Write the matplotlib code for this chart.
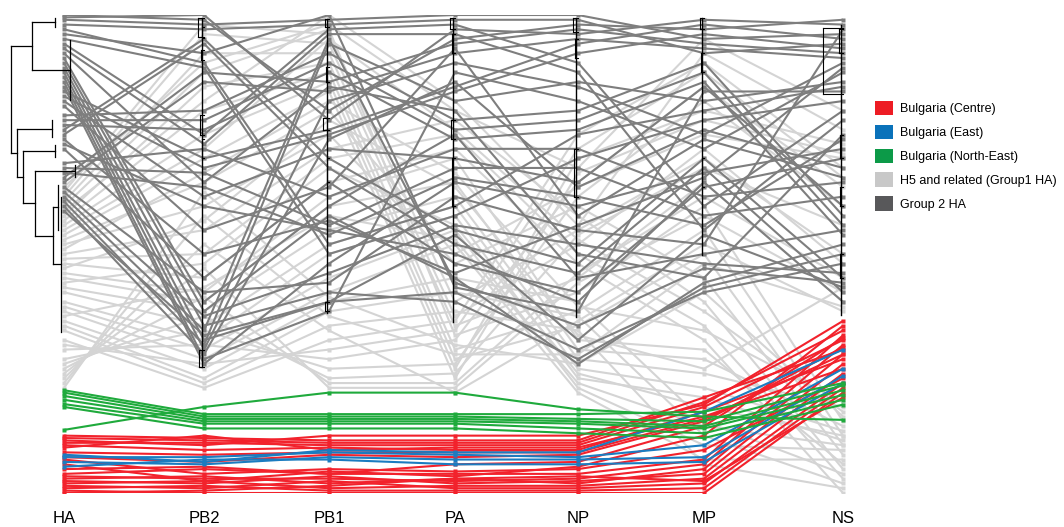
import matplotlib.pyplot as plt
from matplotlib.patches import Patch

plt.rcParams['font.family'] = ['Liberation Sans', 'DejaVu Sans']

# ------------------------------------------------------------------ DATA
segments = ['HA', 'PB2', 'PB1', 'PA', 'NP', 'MP', 'NS']

# tip rank of every strain in each segment tree (0 = top, 100 = bottom)
# columns follow the segment order above
centre = [
    [88.0, 88.5, 89.0, 89.0, 89.0, 80.0, 70.0],
    [88.5, 89.0, 89.5, 89.5, 89.5, 81.0, 66.0],
    [89.0, 90.0, 88.0, 88.0, 88.0, 81.5, 64.0],
    [89.5, 89.5, 90.0, 90.0, 90.0, 82.0, 68.0],
    [90.0, 91.0, 90.5, 91.0, 91.0, 83.0, 72.0],
    [90.5, 88.0, 91.0, 90.5, 90.5, 84.0, 74.0],
    [93.0, 96.0, 95.0, 95.5, 95.0, 91.0, 76.0],
    [96.0, 95.0, 96.0, 96.0, 96.0, 93.0, 67.0],
    [96.5, 97.0, 97.0, 97.5, 97.0, 94.0, 69.0],
    [97.0, 96.5, 98.0, 97.0, 98.0, 95.0, 71.0],
    [97.5, 98.0, 96.5, 98.0, 97.5, 96.0, 73.0],
    [98.0, 97.5, 99.0, 98.5, 98.5, 97.0, 75.0],
    [98.5, 99.0, 97.5, 99.0, 99.0, 98.0, 77.0],
    [99.0, 98.5, 99.5, 99.5, 99.5, 99.0, 78.0],
    [99.5, 100.0, 100.0, 100.0, 100.0, 100.0, 79.0],
    [100.0, 99.5, 98.5, 97.0, 96.5, 97.5, 80.0],
    [94.0, 97.5, 95.5, 96.5, 94.5, 88.0, 65.0],
    [95.0, 94.5, 96.0, 94.0, 93.5, 86.0, 67.5],
    [92.5, 93.5, 92.0, 92.5, 92.0, 85.0, 69.5],
    [91.5, 92.0, 91.5, 91.5, 91.5, 84.5, 71.0],
]

east = [
    [92.0, 93.5, 91.0, 91.5, 91.5, 83.0, 70.0],
    [92.5, 92.5, 91.5, 92.0, 92.5, 90.0, 74.0],
    [93.5, 94.0, 92.5, 93.0, 93.0, 92.5, 75.5],
    [94.5, 93.0, 93.0, 94.0, 94.0, 93.5, 77.0],
]

north_east = [
    [86.8, 82.0, 79.0, 79.0, 82.5, 84.0, 84.7],
    [78.5, 83.5, 83.5, 83.5, 83.5, 83.0, 77.0],
    [79.0, 84.0, 84.0, 84.0, 84.5, 85.0, 77.5],
    [79.7, 84.5, 84.5, 84.5, 85.0, 86.0, 78.5],
    [80.5, 85.0, 85.0, 85.0, 85.5, 86.5, 79.5],
    [81.4, 85.5, 85.5, 85.5, 86.5, 87.5, 80.5],
    [82.0, 86.5, 86.5, 86.5, 87.5, 88.5, 81.5],
]

h5_related = [
    [37, 2, 4, 60, 45, 30, 50],
    [38, 4, 6, 63, 48, 28, 52],
    [39, 8, 8, 65, 55, 35, 60],
    [40, 12, 3, 67, 58, 40, 85],
    [42, 15, 10, 70, 62, 45, 88],
    [43, 20, 12, 72, 65, 50, 90],
    [44, 25, 14, 74, 30, 20, 27],
    [46, 30, 16, 76, 33, 22, 29],
    [47, 35, 20, 50, 36, 25, 30],
    [48, 40, 25, 52, 40, 55, 92],
    [50, 45, 28, 22, 42, 60, 95],
    [51, 50, 30, 25, 50, 65, 97],
    [52, 55, 35, 28, 52, 68, 100],
    [54, 58, 38, 30, 68, 70, 94],
    [55, 60, 40, 35, 70, 72, 86],
    [57, 62, 45, 38, 72, 75, 82],
    [58, 65, 48, 40, 74, 78, 87],
    [60, 68, 50, 42, 76, 80, 89],
    [61, 70, 55, 45, 78, 90, 91],
    [62, 72, 58, 48, 79, 93, 93],
    [64, 74, 60, 55, 60, 85, 96],
    [65, 76, 62, 58, 63, 88, 98],
    [66, 77, 65, 62, 66, 94, 99],
    [68, 78, 68, 64, 25, 10, 32],
    [69, 73, 70, 66, 28, 12, 34],
    [70, 69, 72, 68, 35, 15, 36],
    [72, 66, 74, 73, 38, 18, 40],
    [73, 63, 76, 75, 46, 32, 44],
    [74, 59, 77, 77, 54, 38, 55],
    [75, 53, 78, 78, 56, 42, 58],
    [76, 48, 66, 79, 64, 48, 62],
    [77, 42, 63, 71, 71, 52, 61],
    [78, 37, 59, 69, 73, 58, 84],
    [36, 10, 2, 20, 32, 5, 20],
    [41, 18, 0, 18, 44, 8, 24],
    [45, 28, 5, 24, 47, 62, 83],
    [49, 33, 18, 33, 61, 66, 81],
    [53, 43, 22, 36, 67, 74, 57],
    [56, 52, 32, 44, 75, 82, 88],
    [63, 57, 42, 47, 77, 86, 90],
]

group2 = [
    [0, 1, 20, 5, 2, 3, 1],
    [0.5, 0, 22, 3, 4, 1, 2],
    [1, 2, 1, 0, 0, 5, 4],
    [2, 3, 2, 1, 1, 8, 6],
    [3, 10, 48, 40, 25, 20, 15],
    [5, 11, 50, 42, 30, 22, 18],
    [6, 25, 3, 2, 10, 40, 20],
    [7, 27, 4, 4, 12, 45, 22],
    [8, 35, 15, 20, 50, 55, 25],
    [9, 60, 40, 25, 55, 50, 45],
    [10, 62, 42, 55, 73, 56, 48],
    [11, 65, 58, 60, 72, 57, 50],
    [12, 68, 60, 58, 70, 58, 52],
    [13, 70, 18, 10, 15, 25, 10],
    [14, 72, 62, 12, 18, 28, 12],
    [15, 73, 52, 35, 40, 33, 28],
    [16, 30, 24, 15, 6, 2, 5],
    [17, 32, 25, 16, 8, 4, 7],
    [18, 38, 28, 30, 35, 15, 40],
    [21, 20, 8, 22, 20, 10, 42],
    [22, 22, 10, 24, 22, 12, 44],
    [23, 24, 12, 26, 24, 14, 46],
    [24, 5, 30, 45, 52, 30, 55],
    [25, 6, 32, 48, 54, 32, 58],
    [27, 40, 45, 50, 60, 35, 60],
    [28, 55, 35, 52, 58, 36, 30],
    [31, 28, 38, 28, 28, 38, 35],
    [32, 33, 44, 32, 32, 42, 38],
    [33, 36, 46, 34, 38, 44, 26],
    [34, 12, 14, 6, 3, 6, 8],
    [35, 14, 16, 8, 5, 7, 9],
    [36, 58, 56, 38, 45, 48, 3],
    [37, 63, 54, 44, 48, 52, 54],
    [38, 66, 5, 56, 65, 53, 56],
    [39, 69, 6, 18, 14, 18, 14],
    [40, 71, 26, 14, 36, 24, 32],
    [41, 67, 60, 46, 68, 46, 57],
    [4, 8, 0, 57, 62, 16, 16],
    [19, 45, 36, 7, 42, 26, 34],
    [26, 50, 43, 54, 44, 34, 11],
]

# HA tree: node = (depth, [children]), collapsed clade = (depth, top, bottom)
ha_tree = (11, [
    (32, [(55, 0.6, 2.5), (70, 5.2, 17.8)]),
    (17, [(52, 22.0, 25.5),
          (23, [(55, 27.2, 29.7),
                (35, [(75, 31.4, 33.9),
                      (53, [(58, 35.5, 45.0), (61, 38.0, 66.3)])])])]),
])

# black backbone of the other segment trees (top, bottom)
spines = [None, (0.6, 73.6), (0.8, 62.3), (0.6, 64.2), (0.6, 63.2), (0.6, 50.2), (2.0, 62.8)]
# small sub-clades next to each backbone (offset, top, bottom)
subclades = [
    [],
    [(-6, 0.6, 4.5), (-2, 2.5, 4.8), (-3, 7.3, 9.4), (-4, 21, 25), (-2, 26, 30), (-5, 70, 73.6)],
    [(-4, 0.8, 2.5), (-3, 10.8, 14), (-6, 21.5, 24), (-2, 30, 35), (-4, 60, 62)],
    [(-5, 0.6, 3), (-3, 4, 8), (-4, 22, 26), (-3, 30, 40)],
    [(-5, 0.6, 3.5), (-3, 5, 9), (-4, 28, 38)],
    [(-4, 0.6, 3), (-3, 8, 12), (-2, 30, 36)],
    [(-20, 2.7, 16.5), (-4, 3, 8), (-3, 25, 30), (-3, 36, 40), (-3, 50, 55)],
]

legend_labels = ['Bulgaria (Centre)', 'Bulgaria (East)', 'Bulgaria (North-East)',
                 'H5 and related (Group1 HA)', 'Group 2 HA']

# ---------------------------------------------------------------- STYLE
seg_x = [64, 204, 329, 455, 578, 704, 843]
line_col = ['#f2222c', '#1b7cc0', '#1faa3c', '#d4d4d4', '#7e7e7e']
leg_col = ['#ed1c24', '#0a72ba', '#0c9a48', '#c8c8c8', '#58585a']

fig = plt.figure(figsize=(10.64, 5.27), dpi=100)
ax = fig.add_axes([0, 34 / 527, 1, 478 / 527])
ax.set_xlim(0, 1064)
ax.set_ylim(100, 0)
for s in ax.spines.values():
    s.set_visible(False)
ax.set_yticks([])
ax.set_xticks(seg_x, segments, fontsize=12)
ax.tick_params(axis='x', length=0, pad=13)
ax.get_xticklabels()[0].set_x(68)


# ---------------------------------------------------------------- LINES
def draw_group(rows, col, z):
    for r in rows:
        ax.plot(seg_x, r, color=col, lw=1.5, zorder=z, solid_capstyle='butt')
        ax.plot(seg_x, r, ls='none', marker='s', ms=2.4, mec='none', mfc=col, zorder=z)


draw_group(h5_related, line_col[3], 1)
draw_group(group2, line_col[4], 2)
draw_group(centre, line_col[0], 3)
draw_group(east, line_col[1], 4)
draw_group(north_east, line_col[2], 5)


# ---------------------------------------------------------------- TREES
def draw_clade(node, parent_x):
    if len(node) == 3:
        x, y0, y1 = node
        y = (y0 + y1) / 2
        ax.plot([x, x], [y0, y1], color='k', lw=0.9, zorder=6)
    else:
        x, kids = node
        ys = [draw_clade(k, x) for k in kids]
        ax.plot([x, x], [min(ys), max(ys)], color='k', lw=0.9, zorder=6)
        y = (min(ys) + max(ys)) / 2
    ax.plot([parent_x, x], [y, y], color='k', lw=0.9, zorder=6)
    return y


draw_clade(ha_tree, ha_tree[0])

for i, sp in enumerate(spines):
    x0 = seg_x[i]
    if sp is not None:
        ax.plot([x0 - 2, x0 - 2], sp, color='k', lw=1.0, zorder=6)
    for off, y0, y1 in subclades[i]:
        ax.plot([x0 + off, x0 + off], [y0, y1], color='k', lw=0.8, zorder=6)
        ax.plot([x0 + off, x0], [y0, y0], color='k', lw=0.8, zorder=6)
        ax.plot([x0 + off, x0], [y1, y1], color='k', lw=0.8, zorder=6)

# ---------------------------------------------------------------- LEGEND
handles = [Patch(facecolor=c, edgecolor='none') for c in leg_col]
fig.legend(handles, legend_labels, loc='upper left', bbox_to_anchor=(0.818, 0.818),
           frameon=False, fontsize=9, handlelength=1.4, handleheight=1.4,
           handletextpad=0.55, labelspacing=0.75, borderaxespad=0)

fig.savefig('out.png', dpi=100)
